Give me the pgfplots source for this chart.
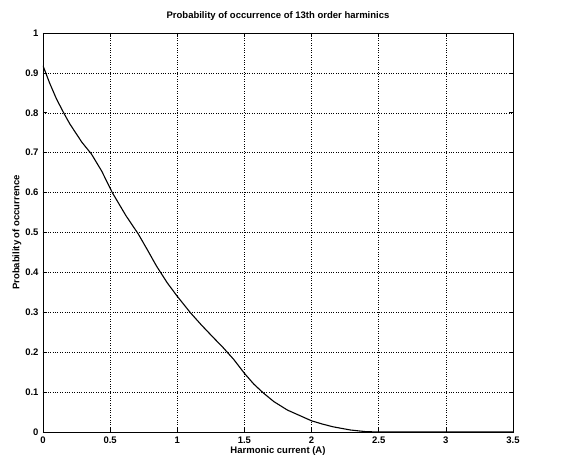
\documentclass[border=0pt]{standalone}
\usepackage{pgfplots}
\pgfplotsset{compat=1.18}
\usepackage{fontspec}
\setmainfont{Liberation Sans}
\usetikzlibrary{calc}
\begin{document}
\begin{tikzpicture}
\begin{axis}[
  scale only axis,
  width=470pt, height=399pt,
  xmin=0, xmax=3.5, ymin=0, ymax=1,
  xtick={0,0.5,...,3.5},
  ytick={0,0.1,...,1},
  xticklabels={0,0.5,1,1.5,2,2.5,3,3.5},
  yticklabels={0,0.1,0.2,0.3,0.4,0.5,0.6,0.7,0.8,0.9,1},
  tick align=inside,
  major tick length=4pt,
  xtick pos=both, ytick pos=both,
  grid=major,
  major grid style={black, dotted, line width=0.5pt},
  axis line style={black, line width=0.9pt},
  every tick/.style={black, line width=0.6pt},
  tick label style={font=\fontsize{9.5}{11}\selectfont\bfseries},
  /pgf/number format/assume math mode=true,
  xticklabel style={yshift=-1pt},
  yticklabel style={xshift=-1pt},
  title={Probability of occurrence of 13th order harminics},
  title style={font=\fontsize{9.5}{11}\selectfont\bfseries, yshift=3pt},
  xlabel={Harmonic current (A)},
  ylabel={Probability of occurrence},
  label style={font=\fontsize{9.5}{11}\selectfont\bfseries},
  xlabel style={yshift=4pt},
  ylabel style={yshift=-3pt},
]
\addplot[black, line width=1.1pt] coordinates {
(0,0.918) (0.05,0.874) (0.1,0.835) (0.157,0.798) (0.2,0.772) (0.29,0.726)
(0.36,0.697) (0.437,0.654) (0.516,0.60) (0.618,0.542) (0.71,0.496)
(0.78,0.455) (0.845,0.416) (0.925,0.374) (1.0,0.34) (1.095,0.300)
(1.18,0.268) (1.265,0.238) (1.34,0.212) (1.42,0.182) (1.5,0.147) (1.57,0.12) (1.64,0.098) (1.72,0.076)
(1.82,0.055) (1.9,0.043) (2.0,0.028) (2.08,0.020) (2.16,0.013) (2.29,0.005)
(2.4,0.001) (2.5,0) (3.5,0)
};
\end{axis}
\useasboundingbox ($(current axis.south west)+(-43pt,-31pt)$) rectangle ($(current axis.north east)+(62pt,33pt)$);
\end{tikzpicture}
\end{document}
